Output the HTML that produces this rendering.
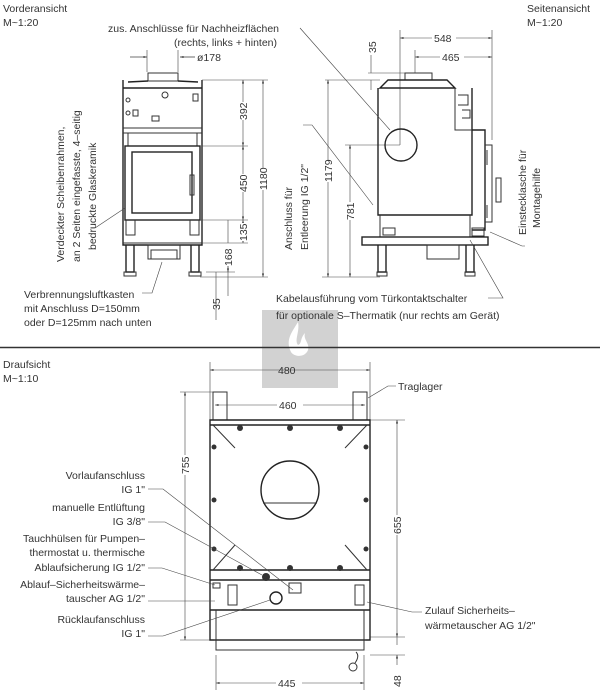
<!DOCTYPE html>
<html><head><meta charset="utf-8"><style>
html,body{margin:0;padding:0;background:#fff}
svg{display:block}
text{font-family:"Liberation Sans",sans-serif;font-size:10.5px;fill:#333}
.l{stroke:#333;stroke-width:1;fill:none}
.t{stroke:#444;stroke-width:0.6;fill:none}
.b{stroke:#222;stroke-width:1.4;fill:none}
</style></head><body>
<svg width="600" height="700" viewBox="0 0 600 700" xmlns="http://www.w3.org/2000/svg">
<defs><marker id="a" viewBox="0 0 10 10" refX="10" refY="5" markerWidth="6" markerHeight="6" orient="auto-start-reverse"><path d="M0,2L10,5L0,8z" fill="#333"/></marker></defs>

<!-- watermark -->
<rect x="262" y="310" width="76" height="78" fill="#d2d2d2"/>
<path d="M298,322C292,332 285,340 291,352C294,357 305,358 308,350C310,343 303,340 305,333C300,338 302,344 298,345C294,340 300,332 298,322Z" fill="#fff"/>

<!-- titles -->
<text x="3" y="12">Vorderansicht</text><text x="3" y="26">M~1:20</text>
<text x="527" y="12">Seitenansicht</text><text x="527" y="26">M~1:20</text>
<text x="108" y="32">zus. Anschlüsse für Nachheizflächen</text>
<text x="174" y="46">(rechts, links + hinten)</text>

<!-- FRONT VIEW -->
<path class="t" d="M130,57H147M180,57H195M147,50V72M178,50V72"/>
<path class="t" d="M130,57H147" marker-end="url(#a)"/><path class="t" d="M195,57H180" marker-end="url(#a)"/>
<text x="197" y="61">ø178</text>
<rect class="l" x="148" y="73" width="30" height="8"/>
<path class="b" d="M123,80V88H202V80M123,88V245H202V88M128,82L148,81M178,81L198,82"/>
<path class="l" d="M123,128H202M123,133H202M128,133V146M197,133V146"/>
<rect class="b" x="125" y="146" width="75" height="74"/>
<rect class="b" x="132" y="152" width="60" height="61"/>
<rect class="l" x="190" y="175" width="4" height="20"/>
<circle class="l" cx="165" cy="95" r="3"/><circle class="l" cx="128" cy="100" r="2"/><circle class="l" cx="128" cy="113" r="2"/>
<rect class="l" x="133" y="110" width="5" height="6"/><rect class="l" x="152" y="116" width="7" height="5"/><rect class="l" x="193" y="94" width="5" height="7"/>
<path class="l" d="M126,220V235H135V220M190,220V235H199V220M123,243H202"/>
<rect class="l" x="148" y="245" width="32" height="14"/><rect class="l" x="151" y="250" width="26" height="9"/>
<path class="b" d="M126,245V272H134V245M191,245V272H199V245"/>
<rect class="l" x="124" y="272" width="12" height="4"/><rect class="l" x="189" y="272" width="12" height="4"/>
<!-- front dims -->
<path class="t" d="M202,80H268M202,146H248M200,220H248M202,243H248M206,272H235M200,277H268"/>
<path class="t" d="M243,80V146" marker-end="url(#a)" marker-start="url(#a)"/>
<path class="t" d="M243,146V220" marker-end="url(#a)" marker-start="url(#a)"/>
<path class="t" d="M243,220V243" marker-end="url(#a)" marker-start="url(#a)"/>
<path class="t" d="M263,80V277" marker-end="url(#a)" marker-start="url(#a)"/>
<path class="t" d="M228,220V243M228,253V272" marker-end="url(#a)"/>
<path class="t" d="M228,262V296M216,282V272M216,277V320"/>
<rect x="237" y="102" width="12" height="18" fill="#fff"/><text transform="translate(247,120) rotate(-90)">392</text>
<rect x="237" y="174" width="12" height="18" fill="#fff"/><text transform="translate(247,192) rotate(-90)">450</text>
<rect x="237" y="223" width="12" height="18" fill="#fff"/><text transform="translate(247,241) rotate(-90)">135</text>
<rect x="257" y="168" width="12" height="22" fill="#fff"/><text transform="translate(267,190) rotate(-90)">1180</text>
<rect x="222" y="248" width="12" height="18" fill="#fff"/><text transform="translate(232,266) rotate(-90)">168</text>
<text transform="translate(220,310) rotate(-90)">35</text>
<text transform="translate(64,262) rotate(-90)">Verdeckter Scheibenrahmen,</text>
<text transform="translate(80,262) rotate(-90)">an 2 Seiten eingefasste, 4–seitig</text>
<text transform="translate(96,250) rotate(-90)">bedruckte Glaskeramik</text>
<path class="t" d="M95,228L125,208"/>
<text x="24" y="298">Verbrennungsluftkasten</text>
<text x="24" y="312">mit Anschluss D=150mm</text>
<text x="24" y="326">oder D=125mm nach unten</text>
<path class="t" d="M142,293H152L162,262"/>

<!-- SIDE VIEW -->
<path class="t" d="M400,30V145M415,50V73M492,30V140"/>
<path class="t" d="M400,38H492" marker-start="url(#a)" marker-end="url(#a)"/>
<path class="t" d="M415,57H492" marker-start="url(#a)" marker-end="url(#a)"/>
<rect x="432" y="31" width="24" height="14" fill="#fff"/><text x="434" y="42">548</text>
<rect x="440" y="50" width="24" height="14" fill="#fff"/><text x="442" y="61">465</text>
<text transform="translate(376,53) rotate(-90)">35</text>
<path class="t" d="M371,55V73M371,80V90M368,73H405M325,80H380M345,145H400M322,277H380"/>
<rect class="l" x="405" y="73" width="27" height="7"/>
<path class="b" d="M380,88L388,80H447L455,88H380ZM378,88V215H472V88"/>
<path class="l" d="M455,88V130H472M458,95H468V105H458M462,110H470V118H462"/>
<path class="b" d="M472,130H485V230H472"/>
<path class="l" d="M485,145H492V222H485M487,150V165M487,205V218"/>
<rect class="l" x="496" y="178" width="5" height="24"/>
<circle class="b" cx="401" cy="145" r="16"/>
<path class="l" d="M380,215V237M470,215V237"/>
<rect class="l" x="383" y="228" width="12" height="7"/><rect class="l" x="472" y="228" width="12" height="8"/>
<rect class="b" x="362" y="237" width="126" height="8"/>
<rect class="l" x="427" y="245" width="32" height="14"/>
<path class="b" d="M378,245V272H386V245M466,245V272H474V245"/>
<rect class="l" x="377" y="272" width="10" height="4"/><rect class="l" x="465" y="272" width="10" height="4"/>
<path class="t" d="M328,80V277" marker-start="url(#a)" marker-end="url(#a)"/>
<path class="t" d="M350,145V277" marker-start="url(#a)" marker-end="url(#a)"/>
<rect x="322" y="160" width="12" height="22" fill="#fff"/><text transform="translate(332,182) rotate(-90)">1179</text>
<rect x="344" y="202" width="12" height="18" fill="#fff"/><text transform="translate(354,220) rotate(-90)">781</text>
<text transform="translate(292,250) rotate(-90)">Anschluss für</text>
<text transform="translate(308,250) rotate(-90)">Entleerung IG 1/2"</text>
<path class="t" d="M300,28L390,130M303,125L312,125L373,205"/>
<text transform="translate(526,235) rotate(-90)">Einstecklasche für</text>
<text transform="translate(540,228) rotate(-90)">Montagehilfe</text>
<path class="t" d="M525,246L522,246L490,232"/>
<text x="276" y="302">Kabelausführung vom Türkontaktschalter</text>
<text x="276" y="319">für optionale S–Thermatik (nur rechts am Gerät)</text>
<path class="t" d="M488,298L503,298L470,240"/>

<!-- separator -->
<path d="M0,347.5H600" stroke="#333" stroke-width="1.5"/>

<!-- TOP VIEW -->
<text x="3" y="368">Draufsicht</text><text x="3" y="382">M~1:10</text>
<path class="t" d="M210,362V420M370,362V420M180,392H213M370,420H405M180,640H215M370,637H405M370,655H405M216,655V690M364,655V690"/>
<path class="t" d="M210,370H370" marker-start="url(#a)" marker-end="url(#a)"/>
<path class="t" d="M215,405H365" marker-start="url(#a)" marker-end="url(#a)"/>
<text x="278" y="374">480</text>
<rect x="277" y="398" width="26" height="14" fill="#fff"/><text x="279" y="409">460</text>
<text x="398" y="390">Traglager</text><path class="t" d="M396,386H388L368,398"/>
<rect class="l" x="213" y="392" width="14" height="28"/><rect class="l" x="353" y="392" width="14" height="28"/>
<path class="b" d="M210,420H370V640H210ZM210,425H370M210,570H370M210,580H370M210,610H370"/>
<path class="l" d="M213,425L235,448M367,425L345,448M213,570L235,545M367,570L345,545M216,610V650H364V610M214,640H366"/>
<g fill="#333">
<circle cx="240" cy="428" r="3"/><circle cx="290" cy="428" r="3"/><circle cx="340" cy="428" r="3"/>
<circle cx="214" cy="447" r="2.5"/><circle cx="366" cy="447" r="2.5"/><circle cx="214" cy="500" r="2.5"/><circle cx="366" cy="500" r="2.5"/>
<circle cx="214" cy="549" r="2.5"/><circle cx="366" cy="549" r="2.5"/>
<circle cx="240" cy="568" r="3"/><circle cx="290" cy="568" r="3"/><circle cx="340" cy="568" r="3"/>
<circle cx="266" cy="577" r="4"/>
</g>
<circle class="b" cx="290" cy="490" r="29"/><path class="l" d="M263,503H317"/>
<circle class="b" cx="276" cy="598" r="6"/>
<rect class="l" x="289" y="583" width="12" height="10"/><rect class="l" x="228" y="585" width="9" height="20"/><rect class="l" x="355" y="585" width="9" height="20"/>
<rect class="l" x="213" y="583" width="7" height="5"/>
<circle class="l" cx="353" cy="667" r="4"/><path class="l" d="M355,663Q360,656 356,652"/>
<path class="t" d="M185,392V640" marker-start="url(#a)" marker-end="url(#a)"/>
<path class="t" d="M397,420V637" marker-start="url(#a)" marker-end="url(#a)"/>
<path class="t" d="M397,645V637M397,665V655" marker-end="url(#a)"/>
<path class="t" d="M216,683H364" marker-start="url(#a)" marker-end="url(#a)"/>
<rect x="179" y="455" width="12" height="20" fill="#fff"/><text transform="translate(189,474) rotate(-90)">755</text>
<rect x="391" y="515" width="12" height="20" fill="#fff"/><text transform="translate(401,534) rotate(-90)">655</text>
<text transform="translate(401,687) rotate(-90)">48</text>
<rect x="276" y="676" width="26" height="14" fill="#fff"/><text x="278" y="687">445</text>
<g text-anchor="end">
<text x="145" y="479">Vorlaufanschluss</text><text x="145" y="493">IG 1"</text>
<text x="145" y="511">manuelle Entlüftung</text><text x="145" y="525">IG 3/8"</text>
<text x="145" y="542">Tauchhülsen für Pumpen–</text><text x="145" y="556">thermostat u. thermische</text><text x="145" y="571">Ablaufsicherung IG 1/2"</text>
<text x="145" y="588">Ablauf–Sicherheitswärme–</text><text x="145" y="602">tauscher AG 1/2"</text>
<text x="145" y="623">Rücklaufanschluss</text><text x="145" y="637">IG 1"</text>
</g>
<path class="t" d="M148,489H163L293,590M148,522H165L262,575M148,568H162L215,585M148,601H215M148,636H163L270,600"/>
<text x="425" y="614">Zulauf Sicherheits–</text><text x="425" y="629">wärmetauscher AG 1/2"</text>
<path class="t" d="M422,612L412,612L367,602"/>
</svg>
</body></html>
